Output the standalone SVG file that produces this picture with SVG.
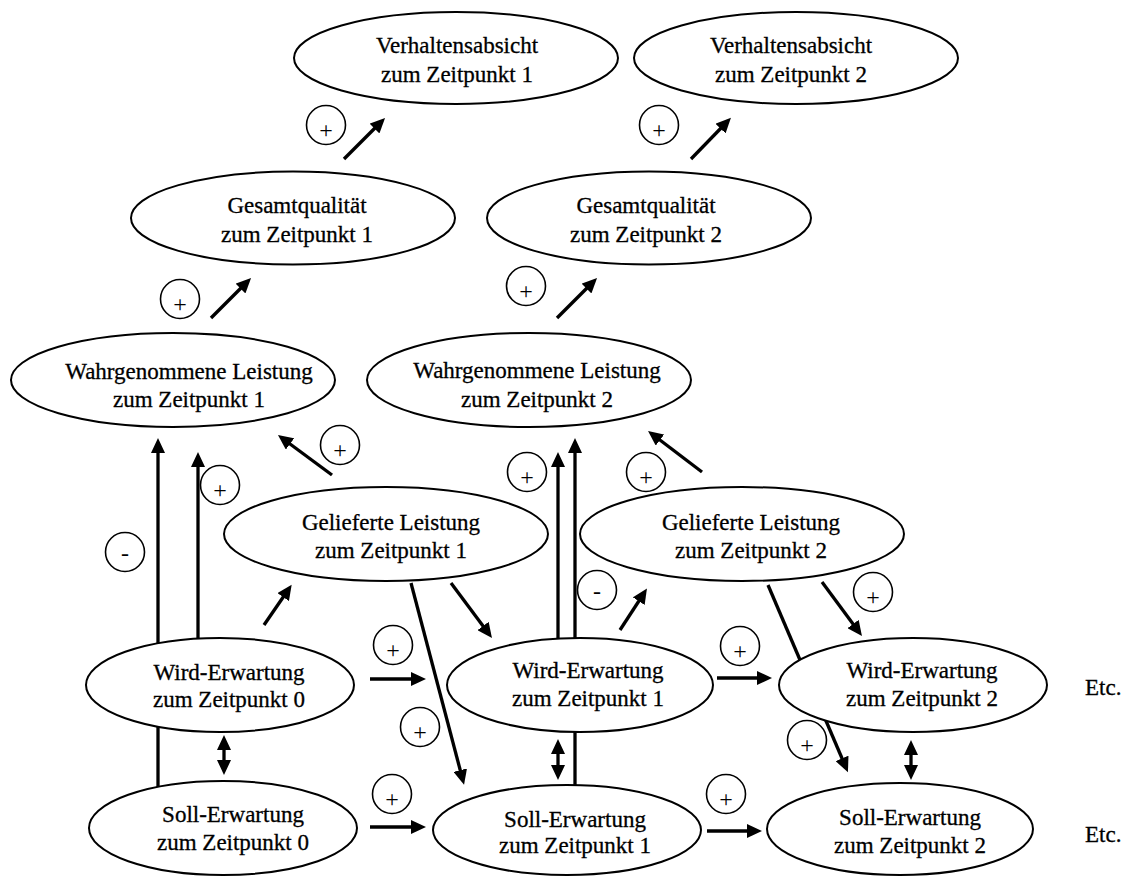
<svg xmlns="http://www.w3.org/2000/svg" width="1130" height="876" viewBox="0 0 1130 876">
  <defs>
    <marker id="head" markerUnits="userSpaceOnUse" markerWidth="16" markerHeight="14" refX="5" refY="7" orient="auto-start-reverse">
      <path d="M0,0 L15,7 L0,14 z" fill="#000"/>
    </marker>
  </defs>
  <style>
    .node ellipse { fill: #fff; stroke: #000; stroke-width: 2; }
    .node text { font-size: 23px; fill: #000; stroke: #000; stroke-width: 0.3; text-anchor: middle; }
    .sign circle { fill: #fff; stroke: #000; stroke-width: 1.6; }
    .sign text { font-size: 24px; fill: #000; text-anchor: middle; }
    .edge { stroke: #000; stroke-width: 3.3; fill: none; }
    .arrow { marker-end: url(#head); }
    .both { marker-start: url(#head); marker-end: url(#head); }
    .etc { font-size: 23px; fill: #000; stroke: #000; stroke-width: 0.3; }
  </style>
  <rect width="1130" height="876" fill="#fff"/>

  <!-- connectors (drawn first so that the nodes cover lines running behind them) -->
  <g id="connectors">
    <line class="edge arrow" x1="344" y1="159" x2="378" y2="125"/>
    <line class="edge arrow" x1="691" y1="159" x2="724" y2="125"/>
    <line class="edge arrow" x1="211" y1="318" x2="244" y2="285"/>
    <line class="edge arrow" x1="557" y1="318" x2="590" y2="285"/>
    <line class="edge arrow" x1="332" y1="475" x2="286" y2="441"/>
    <line class="edge arrow" x1="702" y1="472" x2="656" y2="437"/>
    <line class="edge arrow" x1="158" y1="787" x2="158" y2="448"/>
    <line class="edge arrow" x1="198" y1="640" x2="198" y2="462"/>
    <line class="edge arrow" x1="558" y1="640" x2="558" y2="462"/>
    <line class="edge arrow" x1="575" y1="786" x2="575" y2="448"/>
    <line class="edge arrow" x1="264" y1="625" x2="286" y2="593"/>
    <line class="edge arrow" x1="620" y1="630" x2="641.5" y2="597"/>
    <line class="edge arrow" x1="451" y1="583" x2="486" y2="630"/>
    <line class="edge arrow" x1="822" y1="582" x2="856" y2="628"/>
    <line class="edge arrow" x1="411" y1="583" x2="461.5" y2="775"/>
    <line class="edge arrow" x1="768" y1="585" x2="844" y2="763"/>
    <line class="edge arrow" x1="370" y1="679" x2="416" y2="679"/>
    <line class="edge arrow" x1="717" y1="678" x2="762" y2="678"/>
    <line class="edge arrow" x1="370" y1="827" x2="416" y2="827"/>
    <line class="edge arrow" x1="707" y1="831" x2="752" y2="831"/>
    <line class="edge both" x1="224" y1="745" x2="224" y2="765"/>
    <line class="edge both" x1="558" y1="749" x2="558" y2="770"/>
    <line class="edge both" x1="911" y1="750" x2="911" y2="770"/>
  </g>

  <g font-family="'Liberation Serif', 'Times New Roman', 'DejaVu Serif', serif">
  <!-- nodes -->
  <g id="verhalten1" class="node">
    <ellipse cx="456" cy="58" rx="162" ry="46"/>
    <text x="457" y="53">Verhaltensabsicht</text>
    <text x="457" y="82">zum Zeitpunkt 1</text>
  </g>
  <g id="verhalten2" class="node">
    <ellipse cx="796" cy="58" rx="162" ry="46"/>
    <text x="791" y="53">Verhaltensabsicht</text>
    <text x="791" y="82">zum Zeitpunkt 2</text>
  </g>
  <g id="gesamt1" class="node">
    <ellipse cx="293" cy="218" rx="162" ry="46.5"/>
    <text x="297" y="213">Gesamtqualität</text>
    <text x="297" y="242">zum Zeitpunkt 1</text>
  </g>
  <g id="gesamt2" class="node">
    <ellipse cx="649" cy="218" rx="162" ry="46.5"/>
    <text x="646" y="213">Gesamtqualität</text>
    <text x="646" y="242">zum Zeitpunkt 2</text>
  </g>
  <g id="wahr1" class="node">
    <ellipse cx="173" cy="380" rx="162" ry="47"/>
    <text x="189" y="379">Wahrgenommene Leistung</text>
    <text x="189" y="407">zum Zeitpunkt 1</text>
  </g>
  <g id="wahr2" class="node">
    <ellipse cx="529" cy="380" rx="162" ry="47"/>
    <text x="537" y="378">Wahrgenommene Leistung</text>
    <text x="537" y="407">zum Zeitpunkt 2</text>
  </g>
  <g id="geliefert1" class="node">
    <ellipse cx="386" cy="534" rx="162" ry="47"/>
    <text x="391" y="530">Gelieferte Leistung</text>
    <text x="391" y="558">zum Zeitpunkt 1</text>
  </g>
  <g id="geliefert2" class="node">
    <ellipse cx="742" cy="534" rx="162" ry="47"/>
    <text x="751" y="530">Gelieferte Leistung</text>
    <text x="751" y="558">zum Zeitpunkt 2</text>
  </g>
  <g id="wird0" class="node">
    <ellipse cx="220" cy="685" rx="134" ry="47"/>
    <text x="229" y="680">Wird-Erwartung</text>
    <text x="229" y="707">zum Zeitpunkt 0</text>
  </g>
  <g id="wird1" class="node">
    <ellipse cx="580" cy="685" rx="133" ry="47"/>
    <text x="588" y="678">Wird-Erwartung</text>
    <text x="588" y="706">zum Zeitpunkt 1</text>
  </g>
  <g id="wird2" class="node">
    <ellipse cx="913" cy="685" rx="134" ry="47"/>
    <text x="922" y="678">Wird-Erwartung</text>
    <text x="922" y="706">zum Zeitpunkt 2</text>
  </g>
  <g id="soll0" class="node">
    <ellipse cx="223" cy="828" rx="134" ry="47"/>
    <text x="233" y="822">Soll-Erwartung</text>
    <text x="233" y="850">zum Zeitpunkt 0</text>
  </g>
  <g id="soll1" class="node">
    <ellipse cx="567" cy="830" rx="134" ry="45"/>
    <text x="575" y="827">Soll-Erwartung</text>
    <text x="575" y="853">zum Zeitpunkt 1</text>
  </g>
  <g id="soll2" class="node">
    <ellipse cx="900" cy="829" rx="133" ry="46"/>
    <text x="910" y="825">Soll-Erwartung</text>
    <text x="910" y="853">zum Zeitpunkt 2</text>
  </g>

  <!-- effect signs -->
  <g id="signs" class="sign">
    <circle cx="326" cy="125" r="19.5"/><text x="326" y="138">+</text>
    <circle cx="659" cy="125" r="19.5"/><text x="659" y="138">+</text>
    <circle cx="180" cy="299" r="19.5"/><text x="180" y="312">+</text>
    <circle cx="526" cy="286" r="19.5"/><text x="526" y="299">+</text>
    <circle cx="340" cy="445" r="19.5"/><text x="340" y="458">+</text>
    <circle cx="220" cy="485" r="19.5"/><text x="220" y="498">+</text>
    <circle cx="125" cy="552" r="19.5"/><text x="125" y="561">-</text>
    <circle cx="527" cy="472" r="19.5"/><text x="527" y="485">+</text>
    <circle cx="646" cy="472" r="19.5"/><text x="646" y="485">+</text>
    <circle cx="597" cy="590" r="19.5"/><text x="597" y="599">-</text>
    <circle cx="873" cy="592" r="19.5"/><text x="873" y="605">+</text>
    <circle cx="393" cy="645" r="19.5"/><text x="393" y="658">+</text>
    <circle cx="740" cy="646" r="19.5"/><text x="740" y="659">+</text>
    <circle cx="420" cy="727" r="19.5"/><text x="420" y="740">+</text>
    <circle cx="807" cy="740" r="19.5"/><text x="807" y="753">+</text>
    <circle cx="392" cy="794" r="19.5"/><text x="392" y="807">+</text>
    <circle cx="726" cy="794" r="19.5"/><text x="726" y="807">+</text>
  </g>

  <text class="etc" x="1085" y="695">Etc.</text>
  <text class="etc" x="1085" y="842">Etc.</text>
  </g>
</svg>
